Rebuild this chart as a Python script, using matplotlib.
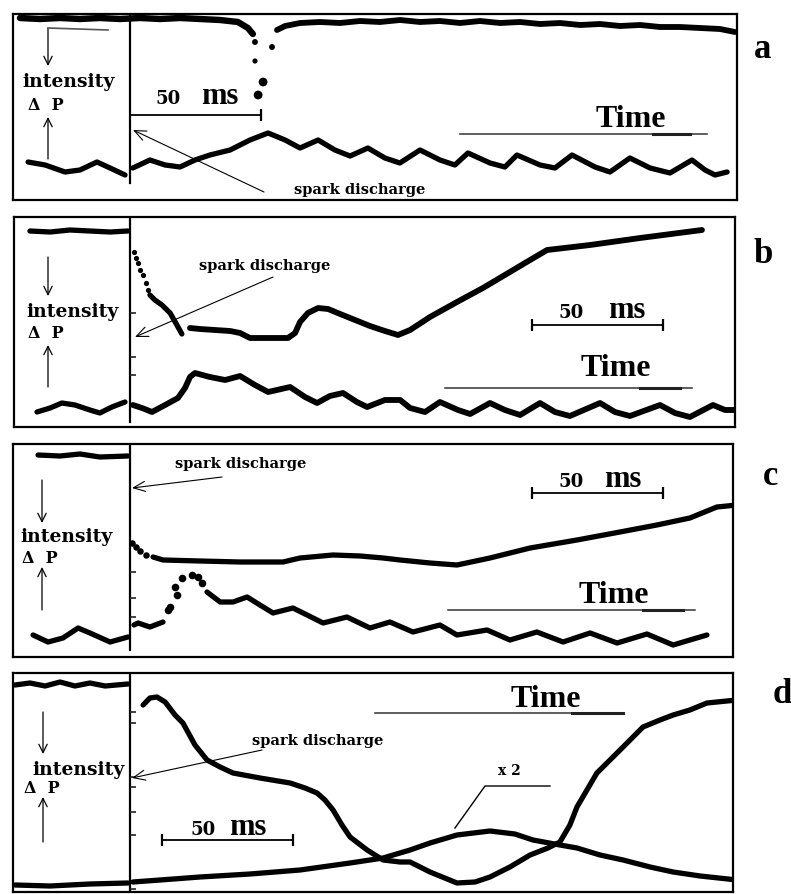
import numpy as np
import matplotlib.pyplot as plt
from matplotlib.patches import FancyArrowPatch

W, H = 791, 894
PX_PER_MS = 2.62   # horizontal scale of the scan (50 ms ~ 131 px)
SPARK_PX = 130     # x of the spark-discharge line

# ---------------- data (time in ms after the spark, signal in a.u.) ----------------
# panel a
a_top_t = [-42, -34.4, -26.7, -19.1, -11.5, -3.8, 3.8, 11.5, 19.1, 26.7, 34.4, 41.2, 45, 46.9]
a_top_v = [182, 181, 182, 181, 182, 181, 182, 181, 182, 181, 180, 178, 172, 166]
a_top2_t = [56.1, 59.2, 64.9, 72.5, 80.2, 87.8, 95.4, 103.1, 110.7, 118.3, 126, 133.6, 141.2,
            148.9, 156.5, 164.1, 171.8, 179.4, 187, 194.7, 202.3, 209.9, 217.6, 225.2, 230.9]
a_top2_v = [170, 174, 177, 178, 177, 179, 178, 180, 178, 179, 177, 179, 177,
            178, 176, 177, 175, 176, 174, 175, 173, 173, 172, 171, 168]
a_dots_t = [47.7, 54.2, 47.7, 50.8, 48.9]
a_dots_v = [158, 153, 139, 118, 105]
a_low_pre_t = [-38.9, -32.4, -24.8, -19.1, -12.6, -7.6, -1.9]
a_low_pre_v = [38, 35, 28, 30, 38, 32, 25]
a_low_t = [1.1, 7.6, 13.4, 19.1, 24.8, 30.5, 38.2, 45.8, 52.7, 59.2, 64.9, 71.8, 78.2, 84, 90.8,
           97.3, 103, 110.7, 118.3, 124, 129, 137.4, 143.1, 147.7, 156.5, 162.2, 168.7, 177.5,
           183.2, 190.8, 198.5, 206.1, 214.5, 219.5, 223.3, 227.9]
a_low_v = [32, 40, 35, 33, 40, 45, 50, 60, 67, 60, 52, 60, 50, 44, 52,
           42, 37, 50, 40, 35, 47, 37, 33, 45, 35, 32, 45, 33,
           28, 42, 32, 27, 40, 30, 25, 28]

# panel b
b_top_pre_t = [-38.2, -30.5, -22.9, -15.3, -7.6, -0.8]
b_top_pre_v = [196, 195, 197, 196, 195, 196]
b_dots_t = [1.5, 2.3, 3.1, 3.8, 5.0, 6.1, 6.9]
b_dots_v = [175, 169, 164, 157, 152, 144, 137]
b_fall_t = [7.6, 9.5, 12.2, 15.3, 17.9, 19.8]
b_fall_v = [132, 127, 122, 114, 102, 93]
b_top_t = [22.9, 26.7, 32.4, 38.2, 42, 45.8, 53.4, 60.3, 63, 64.9, 67.9, 71.8, 75.6, 80.2, 85.9,
           91.6, 97.3, 102.3, 106.9, 114.5, 124.8, 134.7, 145, 152.7, 159.2, 175.6, 194.7, 218.3]
b_top_v = [99, 98, 97, 96, 94, 89, 89, 89, 94, 105, 114, 119, 118, 113, 107,
           101, 96, 92, 97, 110, 125, 139, 155, 167, 177, 182, 189, 197]
b_low_pre_t = [-35.5, -30.5, -26, -21, -15.3, -11.5, -6.9, -1.9]
b_low_pre_v = [15, 19, 24, 22, 17, 14, 20, 25]
b_low_t = [1.1, 4.6, 8.4, 13.4, 18.3, 21, 22.9, 24.8, 30.5, 36.3, 42, 47.7, 52.7, 61.1, 66.8,
           71.4, 76.3, 81.3, 86.6, 90.5, 97.3, 103.1, 106.9, 112.6, 118.3, 125.2, 129.8, 137.4,
           143.1, 148.9, 156.5, 162.2, 167.9, 179.4, 185.1, 190.8, 202.3, 208, 213.7, 222.5,
           227.1, 230.9]
b_low_v = [22, 19, 15, 22, 29, 39, 50, 54, 50, 47, 51, 42, 35, 40, 30,
           24, 31, 34, 25, 20, 27, 27, 19, 15, 25, 17, 13, 24,
           17, 12, 24, 15, 11, 24, 15, 11, 22, 14, 10, 22,
           17, 17]
b_grat_v = [114, 70, 52]

# panel c
c_top_pre_t = [-35.1, -26.7, -19.1, -11.5, -0.8]
c_top_pre_v = [202, 201, 203, 200, 201]
c_dots_t = [0.8, 2.3, 3.8, 6.1]
c_dots_v = [114, 110, 106, 102]
c_top_t = [8.8, 12.6, 26.7, 42, 58.4, 64.9, 77.5, 87.8, 96.6, 103.1, 114.5, 124.8, 137.4,
           152.7, 170.6, 187, 201.1, 213.7, 224, 231.7]
c_top_v = [100, 97, 96, 95, 95, 99, 102, 101, 99, 97, 94, 92, 99,
           109, 117, 125, 132, 139, 150, 152]
c_low_pre_t = [-37, -31.3, -25.6, -19.8, -15.3, -7.6, -0.8]
c_low_pre_v = [22, 15, 19, 29, 24, 15, 20]
c_low_start_t = [1.5, 3.1, 7.6, 12.6]
c_low_start_v = [32, 34, 30, 35]
c_dots_low_t = [14.5, 15.3, 17.9, 17.2, 19.8, 23.7, 26, 27.5]
c_dots_low_v = [47, 50, 62, 70, 79, 82, 80, 74]
c_low_t = [29.4, 34.4, 39.3, 44.7, 49.6, 54.6, 62.2, 67.6, 73.7, 82.8, 91.6, 99.2, 108, 118.3,
           124.8, 136.3, 145, 155.3, 165.3, 175.6, 185.9, 197.3, 207.3, 213.7, 220.2]
c_low_v = [65, 55, 55, 60, 52, 44, 49, 42, 34, 40, 29, 35, 25, 32,
           22, 27, 17, 25, 15, 24, 14, 23, 12, 17, 22]
c_grat_v = [85, 59, 40]

# panel d
d_top_pre_t = [-43.9, -38.2, -32.4, -26.7, -21, -15.3, -9.5, -0.8]
d_top_pre_v = [207, 209, 206, 210, 206, 209, 206, 208]
d_low_pre_t = [-43.9, -30.5, -15.3, -0.8]
d_low_pre_v = [7, 6, 8, 9]
d_fall_t = [5, 7.6, 10.3, 13.4, 17.2, 20.2, 24.8, 29.4, 34.4, 39.3, 49.6, 61.1, 66.8, 71.4,
            74.4, 77.5, 80.9, 84, 90.5, 96.6, 103.1, 106.9, 114.5, 124.8, 131.7, 137.4, 145,
            152.7, 159.5, 164.1, 167.9, 170.6, 174.4, 178.2, 183.2, 188.2, 195.8, 202.3,
            207.3, 213.7, 220.2, 231.7]
d_fall_v = [187, 194, 195, 190, 177, 169, 147, 132, 125, 119, 114, 109, 104, 99,
            92, 82, 67, 55, 42, 32, 30, 30, 20, 9, 10, 15, 25,
            37, 44, 50, 67, 85, 102, 119, 132, 145, 165, 172,
            177, 182, 189, 192]
d_rise_t = [1.1, 11.5, 26.7, 45.8, 64.9, 84, 96.6, 106.9, 114.5, 124.8, 137.4, 146.9, 153.8,
            164.1, 170.6, 179.4, 188.2, 198.5, 207.3, 217.6, 231.7]
d_rise_v = [10, 12, 15, 18, 22, 29, 34, 42, 49, 57, 61, 58, 52,
            47, 44, 37, 32, 25, 20, 16, 12]
d_grat_v = [180, 169, 115, 105, 80, 57, 3]

SCALE_MS = 50

# ---------------- figure ----------------
fig = plt.figure(figsize=(W / 100, H / 100), dpi=100)
TXT = dict(family='DejaVu Serif', weight='bold', color='black')
TNR = dict(family='Liberation Serif', weight='bold', color='black')


def fp(x, y):
    return (x / W, 1 - y / H)


def panel(left, top, right, bottom, line_bottom):
    ax = fig.add_axes([left / W, 1 - bottom / H, (right - left) / W, (bottom - top) / H])
    ax.set_xlim((left - SPARK_PX) / PX_PER_MS, (right - SPARK_PX) / PX_PER_MS)
    ax.set_ylim(0, bottom - top)
    ax.set_xticks([])
    ax.set_yticks([])
    for s in ax.spines.values():
        s.set_linewidth(1.6)
    ax.plot([0, 0], [bottom - line_bottom, bottom - top], color='black', lw=1.6)
    return ax


def trace(ax, t, v, lw=3.8):
    ax.plot(t, v, color='black', lw=lw, solid_capstyle='round', solid_joinstyle='round')


def dots(ax, t, v, s=22):
    ax.scatter(t, v, s=s, color='black', linewidths=0)


def graticule(ax, v):
    # short marks just right of the spark line
    ax.plot([1.0] * len(v), v, ls='none', marker='_', ms=5, mew=1.2, color='#222222')


def arrow(x0, y0, x1, y1, lw=0.9, style='->,head_length=0.5,head_width=0.25', ms=12):
    fig.add_artist(FancyArrowPatch(fp(x0, y0), fp(x1, y1), transform=fig.transFigure,
                                   arrowstyle=style, mutation_scale=ms, lw=lw, color='black',
                                   shrinkA=0, shrinkB=0))


def line(xs, ys, lw=1.0, color='black'):
    fig.add_artist(plt.Line2D([x / W for x in xs], [1 - y / H for y in ys],
                              transform=fig.transFigure, lw=lw, color=color))


def side_labels(ix, iy, dx, dy, ax_x, down, up):
    fig.text(*fp(ix, iy), 'intensity', ha='center', va='baseline', fontsize=13.5, **TXT)
    fig.text(*fp(dx, dy), 'Δ  P', ha='left', va='baseline', fontsize=11.5, **TXT)
    arrow(ax_x, down[0], ax_x, down[1])
    arrow(ax_x, up[0], ax_x, up[1])


def time_arrow(cx, base, x0, x1, y, blob):
    fig.text(*fp(cx, base), 'Time', ha='center', va='baseline', fontsize=23, **TNR)
    line([x0, x1], [y, y], lw=1.1, color='#333333')
    line(blob, [y, y], lw=2.2, color='#222222')


def spark(cx, base, x0, y0, x1, y1):
    fig.text(*fp(cx, base), 'spark discharge', ha='center', va='baseline', fontsize=10.5, **TXT)
    arrow(x0, y0, x1, y1, lw=0.8, style='->,head_length=0.7,head_width=0.3')


def scale_bar(ax, t0, v, x50, xms, base, left_tick=True):
    ax.plot([t0, t0 + SCALE_MS], [v, v], color='black', lw=1.3)
    ticks = [t0, t0 + SCALE_MS] if left_tick else [t0 + SCALE_MS]
    ax.plot(ticks, [v] * len(ticks), ls='none', marker='|', ms=9, mew=1.6, color='black')
    fig.text(*fp(x50, base), '50', ha='center', va='baseline', fontsize=13, **TXT)
    fig.text(*fp(xms, base), 'ms', ha='center', va='baseline', fontsize=22, **TNR)


# ---- panel a ----
ax = panel(13, 14, 737, 200, 183)
trace(ax, a_top_t, a_top_v, lw=4.6)
trace(ax, a_top2_t, a_top2_v, lw=4.2)
dots(ax, a_dots_t, a_dots_v, s=[18, 18, 14, 40, 40])
trace(ax, a_low_pre_t, a_low_pre_v)
trace(ax, a_low_t, a_low_v)
scale_bar(ax, 0, 85, 168, 220, 104, left_tick=False)
side_labels(69, 87, 28, 110, 48, (28, 66), (159, 117))
line([48, 108], [28, 30], lw=1.2, color='#555555')
spark(360, 194, 264, 192, 133, 130)
time_arrow(631, 127, 460, 707, 134, [653, 690])
fig.text(*fp(763, 58), 'a', ha='center', va='baseline', fontsize=25, **TNR)

# ---- panel b ----
ax = panel(14, 217, 735, 427, 422)
trace(ax, b_top_pre_t, b_top_pre_v)
dots(ax, b_dots_t, b_dots_v, s=14)
trace(ax, b_fall_t, b_fall_v)
trace(ax, b_top_t, b_top_v, lw=4.2)
trace(ax, b_low_pre_t, b_low_pre_v)
trace(ax, b_low_t, b_low_v, lw=4.2)
graticule(ax, b_grat_v)
scale_bar(ax, (532 - SPARK_PX) / PX_PER_MS, 102, 571, 627, 318)
side_labels(73, 317, 28, 338, 48, (257, 296), (387, 345))
spark(265, 270, 273, 277, 135, 337)
time_arrow(616, 376, 445, 692, 388, [640, 680])
fig.text(*fp(763, 263), 'b', ha='center', va='baseline', fontsize=25, **TNR)

# ---- panel c ----
ax = panel(13, 444, 733, 657, 650)
trace(ax, c_top_pre_t, c_top_pre_v)
dots(ax, c_dots_t, c_dots_v, s=22)
trace(ax, c_top_t, c_top_v)
trace(ax, c_low_pre_t, c_low_pre_v)
trace(ax, c_low_start_t, c_low_start_v)
dots(ax, c_dots_low_t, c_dots_low_v, s=30)
trace(ax, c_low_t, c_low_v)
graticule(ax, c_grat_v)
scale_bar(ax, (532 - SPARK_PX) / PX_PER_MS, 164, 571, 623, 487)
side_labels(67, 542, 22, 563, 42, (480, 523), (610, 567))
spark(241, 468, 222, 477, 132, 488)
time_arrow(614, 603, 448, 695, 610, [643, 683])
fig.text(*fp(771, 485), 'c', ha='center', va='baseline', fontsize=25, **TNR)

# ---- panel d ----
ax = panel(13, 673, 733, 892, 892)
trace(ax, d_top_pre_t, d_top_pre_v)
trace(ax, d_low_pre_t, d_low_pre_v)
trace(ax, d_fall_t, d_fall_v)
trace(ax, d_rise_t, d_rise_v)
graticule(ax, d_grat_v)
scale_bar(ax, (162 - SPARK_PX) / PX_PER_MS, 52, 203, 248, 835)
side_labels(79, 775, 24, 793, 43, (712, 754), (842, 797))
spark(318, 745, 262, 750, 132, 778)
time_arrow(546, 707, 375, 623, 713, [572, 623])
fig.text(*fp(509, 775), 'x 2', ha='center', va='baseline', fontsize=10, **TXT)
line([455, 485, 550], [828, 786, 786], lw=1.0)
fig.text(*fp(782, 703), 'd', ha='center', va='baseline', fontsize=25, **TNR)

fig.savefig('out.png', dpi=100, facecolor='white')
